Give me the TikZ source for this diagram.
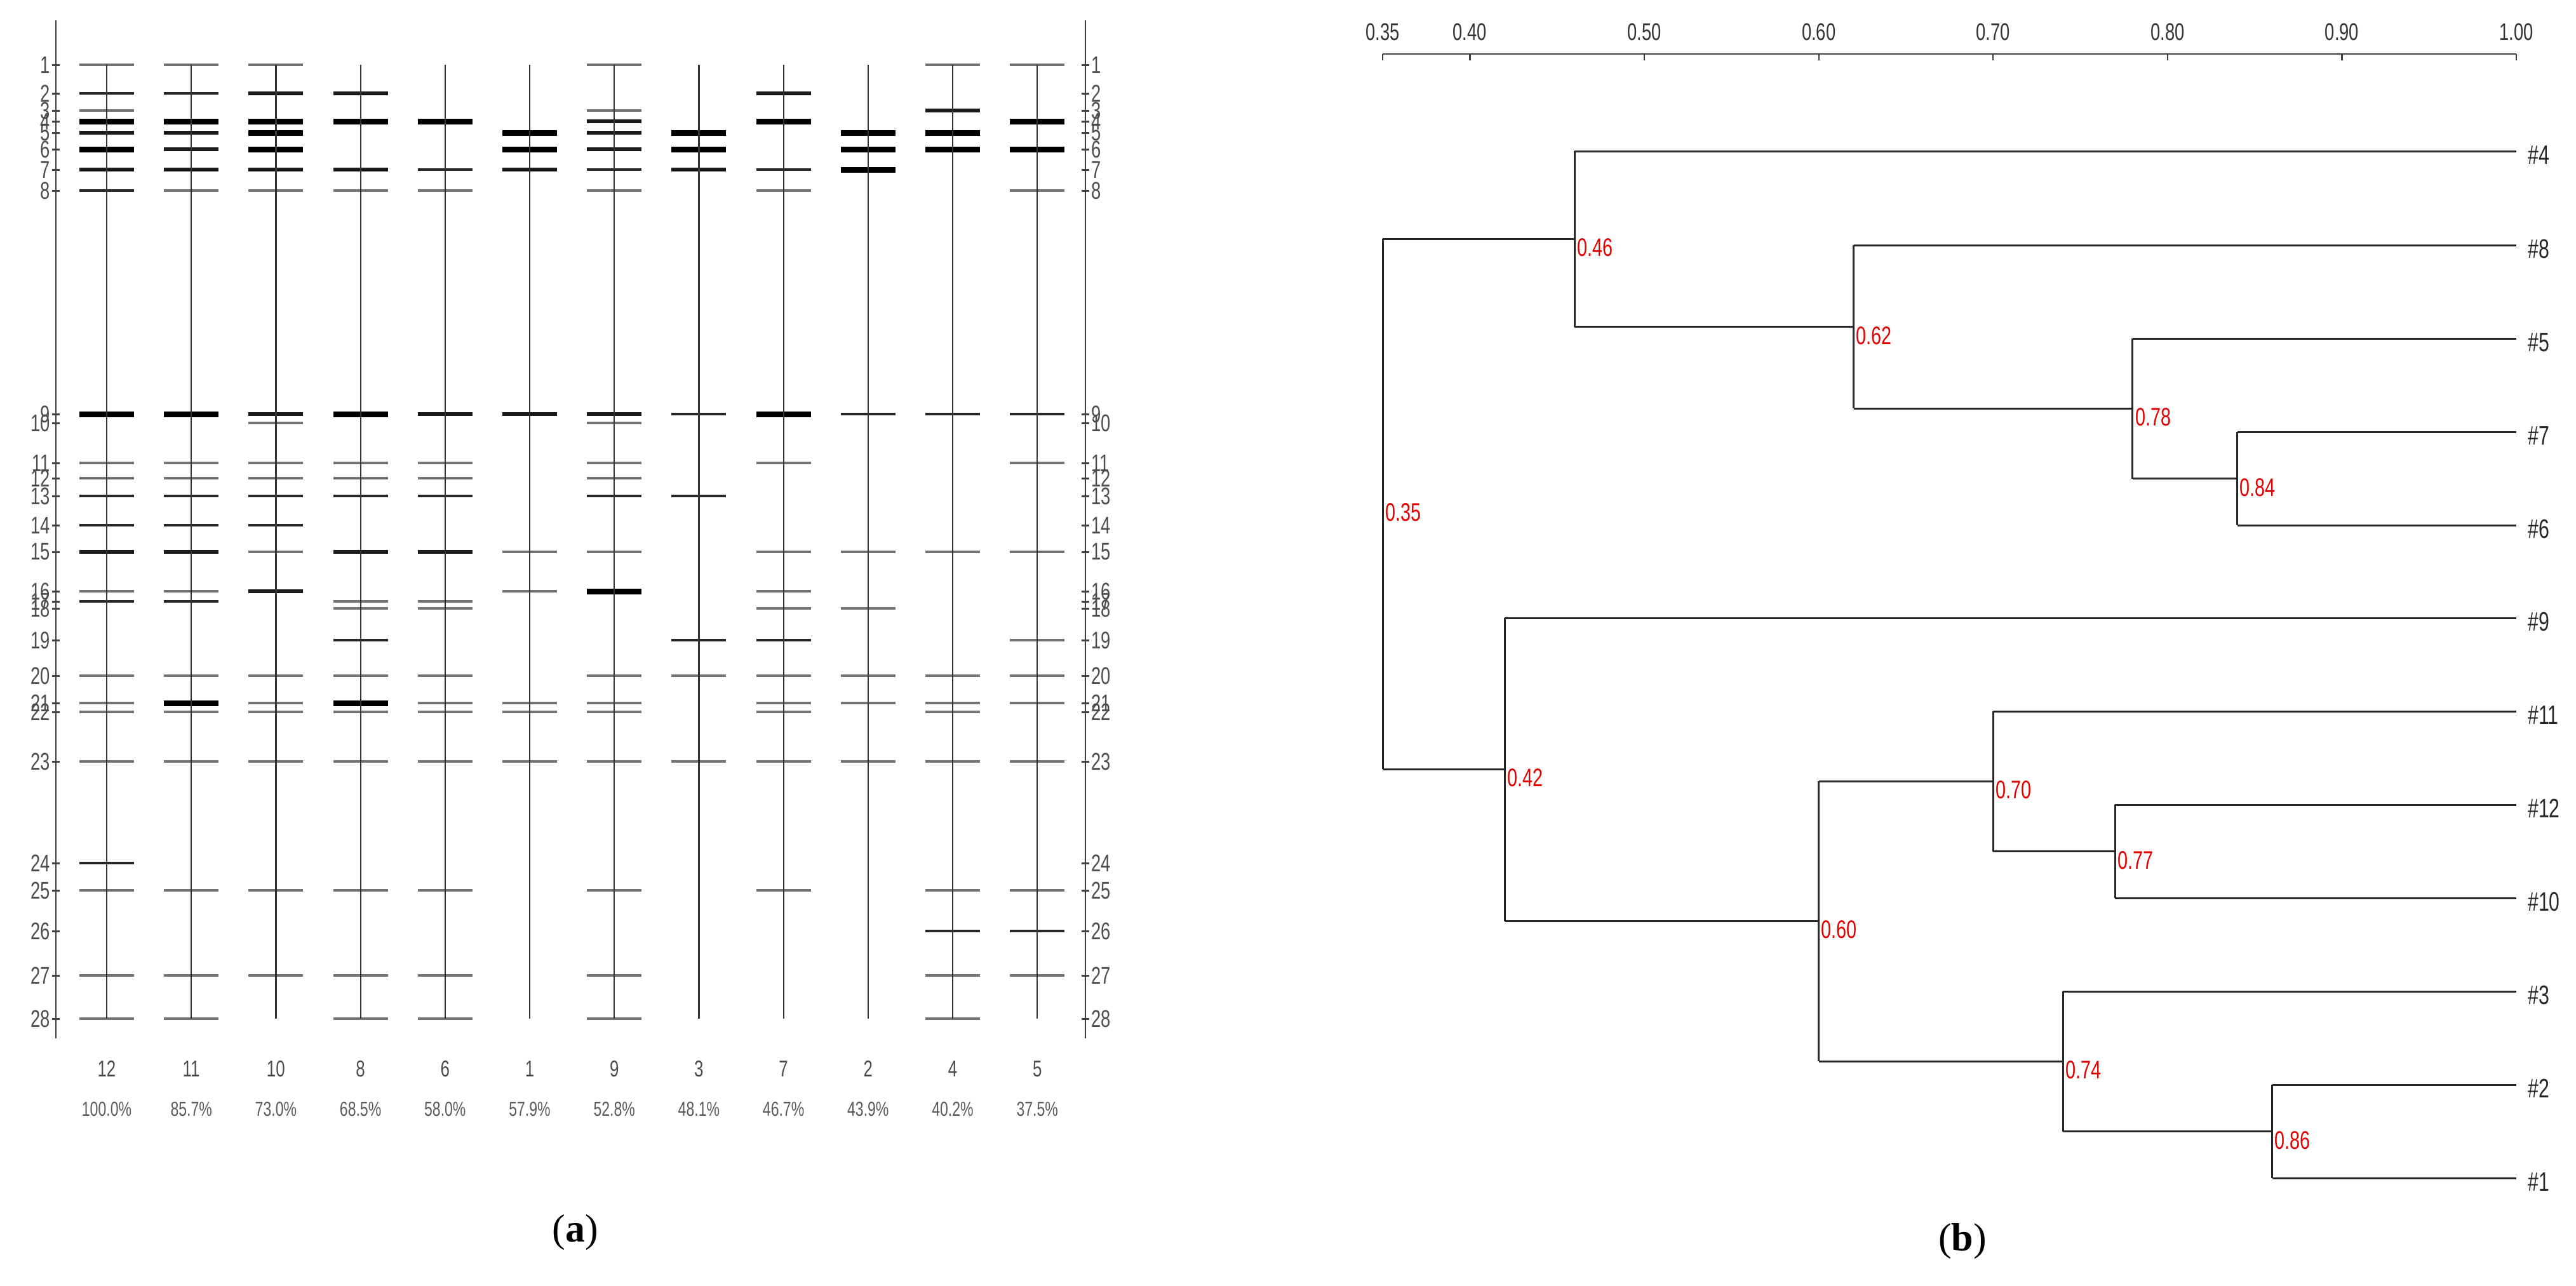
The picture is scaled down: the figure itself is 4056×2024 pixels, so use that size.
\documentclass[tikz,border=0pt]{standalone}
\usepackage{fontspec}
\setmainfont{Liberation Sans}
\newfontfamily\capfont{Liberation Serif}
\newcommand\narr[1]{\scalebox{0.72}[1]{#1}}
\begin{document}
\begin{tikzpicture}[x=1pt,y=-1pt,
  bandg/.style={line width=4.5pt,draw=black!55},
  bandd/.style={line width=4.5pt,draw=black!85},
  bandm/.style={line width=6.5pt,draw=black!90},
  bandb/.style={line width=9pt,draw=black},
  lane/.style={line width=2.2pt,draw=black!80},
  axis/.style={line width=2.2pt,draw=black!75},
  mlab/.style={font=\fontsize{38}{40}\selectfont,text=black!70,inner sep=1pt},
  llab/.style={font=\fontsize{36}{40}\selectfont,text=black!70},
  plab/.style={font=\fontsize{32}{36}\selectfont,text=black!65},
  tree/.style={line width=3pt,draw=black!85},
  val/.style={font=\fontsize{40}{44}\selectfont,text=red!90!black,anchor=west,inner sep=2pt},
  leaf/.style={font=\fontsize{42}{44}\selectfont,text=black!85,anchor=west,inner sep=2pt},
  tick/.style={font=\fontsize{38}{40}\selectfont,text=black!80},
  panelcap/.style={font=\capfont\fontsize{62}{66}\selectfont}]
\useasboundingbox (0,0) rectangle (4056,2024);
\def\M{{0,102,147,174,191,209,235,267,300,652,666,729,753,781,827,869,931,947,958,1008,1064,1107,1121,1199,1359,1402,1466,1536,1604}}
% ---------- panel (a) ----------
\coordinate (LT) at (88,32); \coordinate (LB) at (88,1635);
\coordinate (RT) at (1709,32); \coordinate (RB) at (1709,1635);
\draw[axis] (LT) -- (LB);
\draw[axis] (RT) -- (RB);
\foreach \k in {1,...,28}{
  \pgfmathsetmacro\yy{\M[\k]}
  \draw[line width=3pt,black!75] (82,\yy) -- (94,\yy);
  \draw[line width=3pt,black!75] (1703,\yy) -- (1715,\yy);
  \node[mlab,anchor=east] (ml\k) at (80,\yy) {\narr{\k}};
  \node[mlab,anchor=west] (mr\k) at (1717,\yy) {\narr{\k}};
}
\foreach \i/\nm/\pc/\bl in {
 0/12/100.0/{1/g,2/d,3/g,4/b,5/m,6/b,7/m,8/d,9/b,11/g,12/g,13/d,14/d,15/m,16/g,17/d,20/g,21/g,22/g,23/g,24/d,25/g,27/g,28/g},
 1/11/85.7/{1/g,2/d,4/b,5/m,6/m,7/m,8/g,9/b,11/g,12/g,13/d,14/d,15/m,16/g,17/d,20/g,21/b,22/g,23/g,25/g,27/g,28/g},
 2/10/73.0/{1/g,2/m,4/b,5/b,6/b,7/m,8/g,9/m,10/g,11/g,12/g,13/d,14/d,15/g,16/m,20/g,21/g,22/g,23/g,25/g,27/g},
 3/8/68.5/{2/m,4/b,7/m,8/g,9/b,11/g,12/g,13/d,15/m,17/g,18/g,19/d,20/g,21/b,22/g,23/g,25/g,27/g,28/g},
 4/6/58.0/{4/b,7/d,8/g,9/m,11/g,12/g,13/d,15/m,17/g,18/g,20/g,21/g,22/g,23/g,25/g,27/g,28/g},
 5/1/57.9/{5/b,6/b,7/m,9/m,15/g,16/g,21/g,22/g,23/g},
 6/9/52.8/{1/g,3/g,4/m,5/m,6/m,7/d,8/g,9/m,10/g,11/g,12/g,13/d,15/g,16/b,20/g,21/g,22/g,23/g,25/g,27/g,28/g},
 7/3/48.1/{5/b,6/b,7/m,9/d,13/d,19/d,20/g,23/g},
 8/7/46.7/{2/m,4/b,7/d,8/g,9/b,11/g,15/g,16/g,18/g,19/d,20/g,21/g,22/g,23/g,25/g},
 9/2/43.9/{5/b,6/b,7/b,9/d,15/g,18/g,20/g,21/g,23/g},
 10/4/40.2/{1/g,3/m,5/b,6/b,9/d,15/g,20/g,21/g,22/g,23/g,25/g,26/d,27/g,28/g},
 11/5/37.5/{1/g,4/b,6/b,8/g,9/d,11/g,15/g,19/g,20/g,21/g,23/g,25/g,26/d,27/g}}{
  \pgfmathsetmacro\xx{168+133.2*\i}
  \coordinate (top\i) at (\xx,102); \coordinate (bot\i) at (\xx,1604);
  \foreach \m/\t in \bl{
    \pgfmathsetmacro\yy{\M[\m]}
    \draw[band\t] (\xx-43,\yy) -- (\xx+43,\yy);
  }
  \draw[lane] (top\i) -- (bot\i);
  \node[llab] (ln\i) at (\xx,1683) {\narr{\nm}};
  \node[plab] (lp\i) at (\xx,1746) {\narr{\pc\%}};
}
\node[panelcap] (capa) at (906,1941) {(\textbf{a})};
% ---------- panel (b) ----------
\coordinate (A0) at (2177,85); \coordinate (A1) at (3962,85);
\draw[axis] (A0) -- (A1);
\foreach \n/\v/\s in {1/0.35/0.35,2/0.40/0.40,3/0.50/0.50,4/0.60/0.60,5/0.70/0.70,6/0.80/0.80,7/0.90/0.90,8/1.00/1.00}{
  \pgfmathsetmacro\xx{2589+(\v-0.5)*2746}
  \coordinate (tk\n) at (\xx,85);
  \draw[axis] (tk\n) -- ++(0,10);
  \node[tick] (tl\n) at (\xx,50) {\narr{\s}};
}
\foreach \nm/\yy in {4/238,8/386,5/533,7/680,6/827,9/973,11/1120,12/1267,10/1414,3/1561,2/1708,1/1855}{
  \coordinate (e\nm) at (3962,\yy);
  \node[leaf] (n\nm) at (3978,\yy+6) {\narr{\#\nm}};
}
\foreach \j/\v/\ya/\yb/\ym in {84/0.84/680/827/753.5, 78/0.78/533/753.5/643, 62/0.62/386/643/514.5,
  46/0.46/238/514.5/376, 77/0.77/1267/1414/1340.5, 70/0.70/1120/1340.5/1230, 86/0.86/1708/1855/1781.5,
  74/0.74/1561/1781.5/1671, 60/0.60/1230/1671/1450, 42/0.42/973/1450/1211, 35/0.35/376/1211/793}{
  \pgfmathsetmacro\xx{2589+(\v-0.5)*2746}
  \coordinate (j\j) at (\xx,\ym);
  \coordinate (ja\j) at (\xx,\ya);
  \coordinate (jb\j) at (\xx,\yb);
  \draw[tree] (ja\j) -- (jb\j);
  \node[val] (v\j) at (\xx+2,\ym+14) {\narr{\v}};
}
\draw[tree] (ja84) -- (e7);  \draw[tree] (jb84) -- (e6);
\draw[tree] (ja78) -- (e5);  \draw[tree] (jb78) -- (j84);
\draw[tree] (ja62) -- (e8);  \draw[tree] (jb62) -- (j78);
\draw[tree] (ja46) -- (e4);  \draw[tree] (jb46) -- (j62);
\draw[tree] (ja77) -- (e12); \draw[tree] (jb77) -- (e10);
\draw[tree] (ja70) -- (e11); \draw[tree] (jb70) -- (j77);
\draw[tree] (ja86) -- (e2);  \draw[tree] (jb86) -- (e1);
\draw[tree] (ja74) -- (e3);  \draw[tree] (jb74) -- (j86);
\draw[tree] (ja60) -- (j70); \draw[tree] (jb60) -- (j74);
\draw[tree] (ja42) -- (e9);  \draw[tree] (jb42) -- (j60);
\draw[tree] (ja35) -- (j46); \draw[tree] (jb35) -- (j42);
\node[panelcap] (capb) at (3090,1955) {(\textbf{b})};
\end{tikzpicture}
\end{document}
